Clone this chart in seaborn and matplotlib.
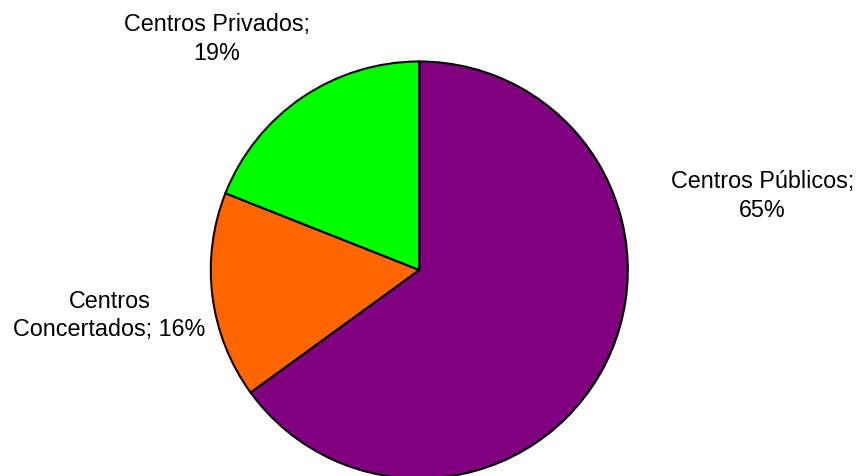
import matplotlib
matplotlib.use("Agg")
import matplotlib.pyplot as plt
import seaborn as sns

# Datos del gráfico
categorias = ['Centros Públicos', 'Centros Concertados', 'Centros Privados']
porcentajes = [65, 16, 19]
etiquetas = ['Centros Públicos;\n65%', 'Centros\nConcertados; 16%', 'Centros Privados;\n19%']
colores = ['#800080', '#FF6600', '#00FF00']

sns.set_theme(style="white")
plt.rcParams['font.family'] = ['Liberation Sans', 'DejaVu Sans']

fig = plt.figure(figsize=(8.56, 4.77), dpi=100)
ax = fig.add_axes([0, 0, 1, 1])

wedges, textos = ax.pie(porcentajes, labels=etiquetas, colors=colores, startangle=90,
                        counterclock=False, radius=1.0,
                        wedgeprops={'edgecolor': 'black', 'linewidth': 1.5},
                        textprops={'fontsize': 16.8, 'color': 'black'})

# posiciones de las etiquetas (en radios del pastel)
pos_etiquetas = [(1.645, 0.36), (-1.486, -0.213), (-0.972, 1.112)]
for t, p in zip(textos, pos_etiquetas):
    t.set_position(p)
    t.set_ha('center')
    t.set_va('center')
    t.set_multialignment('center')
    t.set_linespacing(1.3)

r = 208.5
cx, cy = 419.3, 271
ax.set_xlim(-cx / r, (856 - cx) / r)
ax.set_ylim(-(477 - cy) / r, cy / r)
ax.set_aspect('auto')
ax.axis('off')

fig.savefig('out.png', dpi=100)
